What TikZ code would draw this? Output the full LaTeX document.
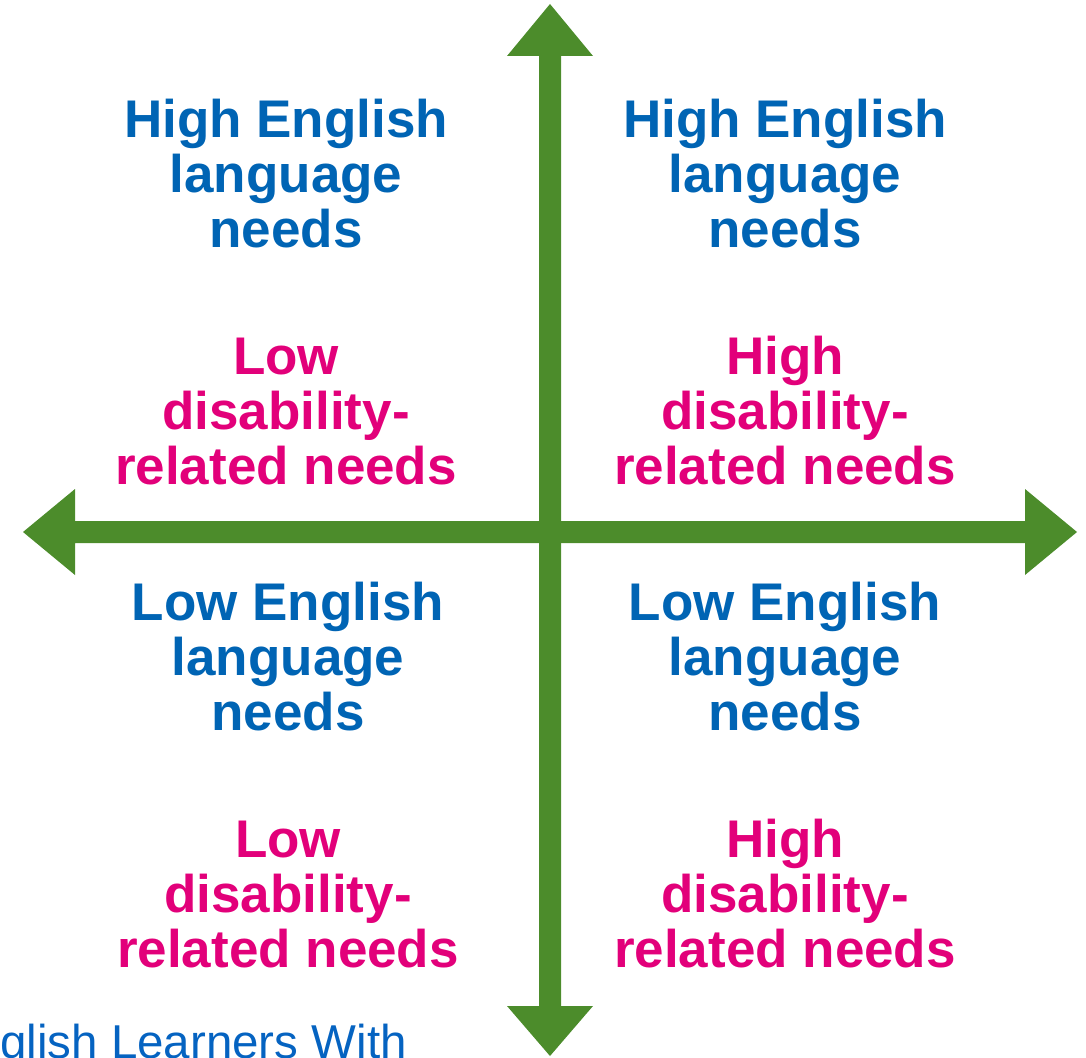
\documentclass[tikz,border=0pt]{standalone}
\usepackage{fontspec}
\setmainfont{Liberation Sans}
\definecolor{engblue}{HTML}{0064B4}
\definecolor{dispink}{HTML}{E2007A}
\definecolor{axgreen}{HTML}{4C8C2B}
\definecolor{capblue}{HTML}{0563C1}
\tikzset{
  eng/.style={anchor=base, inner sep=0pt, text=engblue, font=\fontsize{53}{55}\selectfont\bfseries},
  dis/.style={anchor=base, inner sep=0pt, text=dispink, font=\fontsize{53}{55}\selectfont\bfseries},
  axisfill/.style={fill=axgreen},
  captext/.style={anchor=base east, inner sep=0pt, text=capblue, font=\fontsize{47.5}{50}\selectfont}
}
\begin{document}
\begin{tikzpicture}[x=1pt,y=-1pt]
\useasboundingbox (0,0) rectangle (1086,1057);
% axes
\fill[axisfill] (539,56) -- (507,56) -- (550,4) -- (593,56) -- (561,56) -- (561,1006) -- (593,1006) -- (550,1056) -- (507,1006) -- (539,1006) -- cycle;
\fill[axisfill] (75,521) -- (75,489) -- (23,532) -- (75,575) -- (75,543) -- (1025,543) -- (1025,575) -- (1077,532) -- (1025,489) -- (1025,521) -- cycle;
% top-left
\node[eng] (tl1) at (286,137) {High English};
\node[eng] (tl2) at (286,192) {language};
\node[eng] (tl3) at (286,247) {needs};
\node[dis] (tl4) at (286,374) {Low};
\node[dis] (tl5) at (286,429) {disability-};
\node[dis] (tl6) at (286,484) {related needs};
% top-right
\node[eng] (tr1) at (785,137) {High English};
\node[eng] (tr2) at (785,192) {language};
\node[eng] (tr3) at (785,247) {needs};
\node[dis] (tr4) at (785,374) {High};
\node[dis] (tr5) at (785,429) {disability-};
\node[dis] (tr6) at (785,484) {related needs};
% bottom-left
\node[eng] (bl1) at (288,620) {Low English};
\node[eng] (bl2) at (288,675) {language};
\node[eng] (bl3) at (288,730) {needs};
\node[dis] (bl4) at (288,857) {Low};
\node[dis] (bl5) at (288,912) {disability-};
\node[dis] (bl6) at (288,967) {related needs};
% bottom-right
\node[eng] (br1) at (785,620) {Low English};
\node[eng] (br2) at (785,675) {language};
\node[eng] (br3) at (785,730) {needs};
\node[dis] (br4) at (785,857) {High};
\node[dis] (br5) at (785,912) {disability-};
\node[dis] (br6) at (785,967) {related needs};
% caption fragment
\node[captext] (caption) at (407,1058) {glish Learners With};
\end{tikzpicture}
\end{document}
